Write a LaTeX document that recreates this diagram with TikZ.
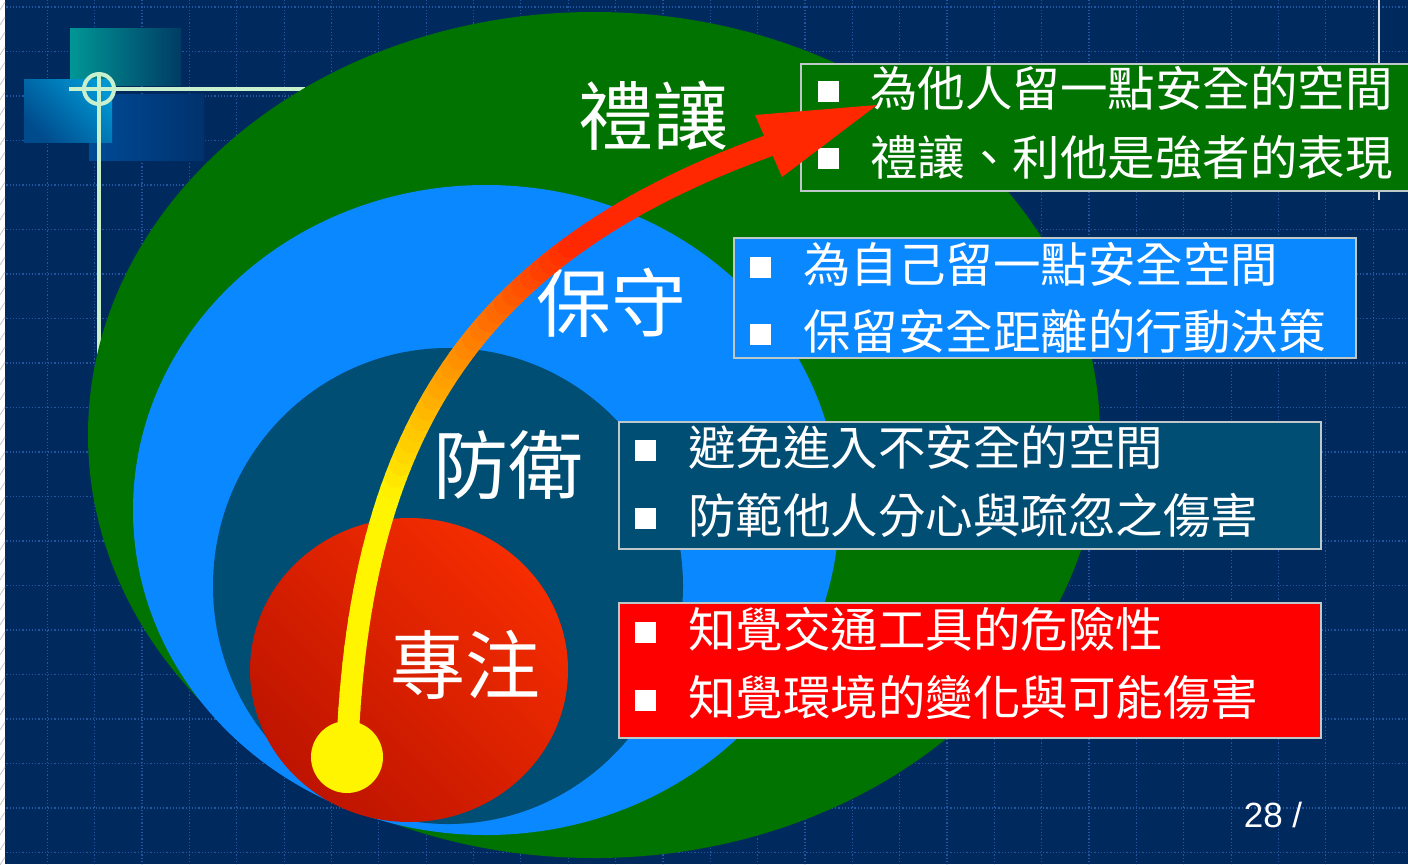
\documentclass[tikz,border=0pt]{standalone}
\usepackage{fontspec}
\newfontfamily\cjk{Noto Sans CJK TC}
\newfontfamily\arialf{Liberation Sans}
\definecolor{bgc}{RGB}{0,42,94}
\definecolor{gridc}{RGB}{35,85,160}
\definecolor{grn}{RGB}{0,115,0}
\definecolor{lblue}{RGB}{10,136,255}
\definecolor{dteal}{RGB}{0,78,115}
\definecolor{rd1}{RGB}{245,45,0}
\definecolor{rd2}{RGB}{190,20,0}
\definecolor{boxred}{RGB}{255,0,0}
\definecolor{mint}{RGB}{200,240,205}
\definecolor{arrred}{RGB}{255,40,0}
\definecolor{ylw}{RGB}{255,245,0}
\definecolor{bord}{RGB}{190,200,200}
\definecolor{tl1}{RGB}{0,150,150}
\definecolor{tl2}{RGB}{0,60,100}
\definecolor{mb1}{RGB}{0,150,210}
\definecolor{mb2}{RGB}{0,75,140}
\definecolor{db1}{RGB}{0,75,150}
\definecolor{db2}{RGB}{0,50,110}
\begin{document}
\begin{tikzpicture}[x=0.5pt,y=-0.5pt,
  panel/.style={draw=bord, line width=0.75pt, rectangle, inner sep=0pt, anchor=north west},
  bul/.style={fill=white, rectangle, minimum size=10.5pt, inner sep=0pt},
  itemtext/.style={text=white, font=\cjk\fontsize{23.75pt}{28pt}\selectfont, anchor=west, inner sep=0pt},
  lvl/.style={text=white, font=\cjk\fontsize{37.5pt}{40pt}\selectfont, inner sep=0pt},
  gridline/.style={gridc, densely dotted, line width=0.6pt},
  decoline/.style={mint, line width=2pt}]
\useasboundingbox (0,0) rectangle (1408,864);
% background
\fill[bgc] (0,0) rectangle (1408,864);
\foreach \k in {1,...,29} \draw[gridline] ({47.35*\k},0) -- ({47.35*\k},864);
\foreach \k in {0,...,19} \draw[gridline] (0,{7+44.5*\k}) -- (1408,{7+44.5*\k});
\fill[white] (0,0) rectangle (5,864);
\foreach \k in {0,...,58} \draw[gray!45, line width=0.4pt] (0,{15*\k+10}) -- (5,{15*\k+2});
% top-left decoration
\shade[left color=tl1, middle color=tl1!85!tl2, right color=tl2] (70,28) rectangle (181,85);
\shade[left color=db1, right color=db2] (89,94) rectangle (204,160);
\shade[shading=axis, top color=mb1, bottom color=mb2, shading angle=-45] (24,79) rectangle (112,142);
\draw[decoline] (69,89) -- (305,89);
\draw[decoline] (99,73) -- (99,360);
\draw[decoline] (99,89) circle [radius=15];
\draw[white!85!bgc, line width=0.6pt] (1379,0) -- (1379,200);
% nested ellipses
\fill[grn] (594,435) ellipse [x radius=253pt, y radius=211.5pt];
\fill[lblue] (486,510) ellipse [x radius=176.5pt, y radius=162.5pt];
\fill[dteal] (448,586) ellipse [x radius=117.5pt, y radius=119pt];
\shade[shading=axis, top color=rd1, bottom color=rd2, shading angle=-45] (409,670) ellipse [x radius=79.5pt, y radius=76pt];
% level labels
\node[lvl] (l1) at (653,116) {禮讓};
\node[lvl] (l2) at (611,303) {保守};
\node[lvl] (l3) at (508,465) {防衛};
\node[lvl] (l4) at (465,665) {專注};
% panels
\node[panel, fill=grn, minimum width=304pt, minimum height=63.5pt] (b1) at (800,63) {};
\node[panel, fill=lblue, minimum width=311pt, minimum height=60pt] (b2) at (733,237) {};
\node[panel, fill=dteal, minimum width=351pt, minimum height=63.5pt] (b3) at (618,421) {};
\node[panel, fill=boxred, minimum width=351pt, minimum height=67.5pt] (b4) at (618,602) {};
% bullets and items
\node[bul] (s11) at (828,91) {};
\node[itemtext] (t11) at (870,88) {為他人留一點安全的空間};
\node[bul] (s12) at (828,158) {};
\node[itemtext] (t12) at (870,157) {禮讓、利他是強者的表現};
\node[bul] (s21) at (760,267) {};
\node[itemtext] (t21) at (803,264) {為自己留一點安全空間};
\node[bul] (s22) at (760,334) {};
\node[itemtext] (t22) at (803,331) {保留安全距離的行動決策};
\node[bul] (s31) at (645,450) {};
\node[itemtext] (t31) at (688,447) {避免進入不安全的空間};
\node[bul] (s32) at (645,518) {};
\node[itemtext] (t32) at (688,515) {防範他人分心與疏忽之傷害};
\node[bul] (s41) at (645,632) {};
\node[itemtext] (t41) at (688,629) {知覺交通工具的危險性};
\node[bul] (s42) at (645,700) {};
\node[itemtext] (t42) at (688,697) {知覺環境的變化與可能傷害};
% gradient arrow
\foreach \i in {0,...,59}{
  \pgfmathsetmacro\ta{\i/60}
  \pgfmathsetmacro\tb{(\i+1)/60}
  \pgfmathsetmacro\xa{(1-\ta)^3*347+3*(1-\ta)^2*\ta*358+3*(1-\ta)*\ta^2*475+\ta^3*768}
  \pgfmathsetmacro\ya{(1-\ta)^3*757+3*(1-\ta)^2*\ta*430+3*(1-\ta)*\ta^2*252+\ta^3*146}
  \pgfmathsetmacro\xb{(1-\tb)^3*347+3*(1-\tb)^2*\tb*358+3*(1-\tb)*\tb^2*475+\tb^3*768}
  \pgfmathsetmacro\yb{(1-\tb)^3*757+3*(1-\tb)^2*\tb*430+3*(1-\tb)*\tb^2*252+\tb^3*146}
  \pgfmathtruncatemacro\pc{min(100,max(0,(\ta-0.3)*230))}
  \draw[line width=11pt, line cap=round, color=arrred!\pc!ylw] (\xa,\ya) -- (\xb,\yb);
}
\coordinate (hb1) at (755,115);
\coordinate (tip) at (877,105);
\coordinate (hb2) at (782,177);
\fill[arrred] (hb1) -- (tip) -- (hb2) -- cycle;
\fill[ylw] (347,757) circle [radius=18pt];
\node[inner sep=0pt] (dot) at (347,757) {};
% page number
\node[text=white, font=\arialf\fontsize{17.5pt}{20pt}\selectfont, inner sep=0pt] (pg) at (1273,815) {28 /};
\end{tikzpicture}
\end{document}
